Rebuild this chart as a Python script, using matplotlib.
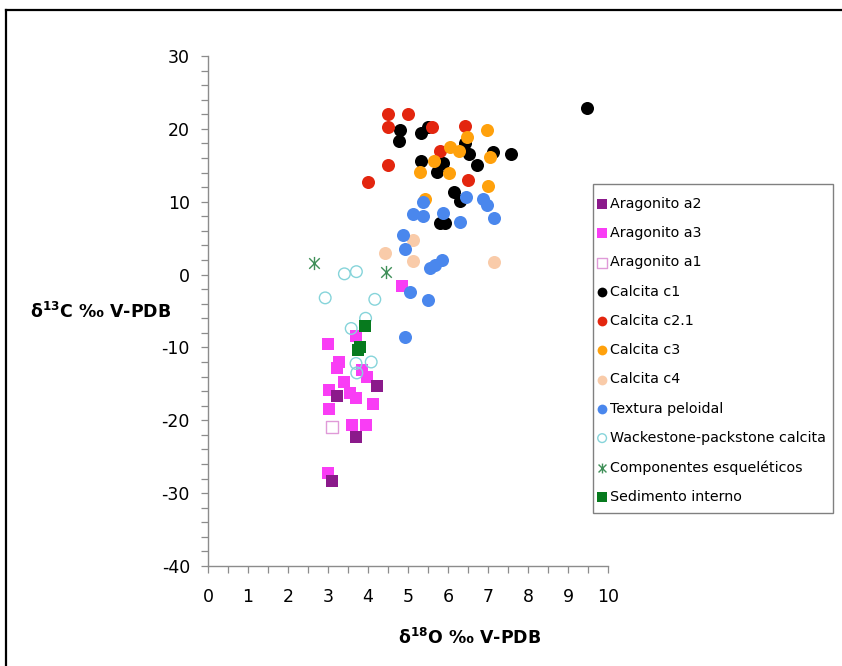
import numpy as np
import matplotlib
matplotlib.use("Agg")
from matplotlib import pyplot as plt
from matplotlib.path import Path
from matplotlib.lines import Line2D
from matplotlib.patches import Rectangle

plt.rcParams['axes.unicode_minus'] = False

# d18O (x) and d13C (y) per sample group, per mil V-PDB
arag_a2_x = [4.22, 3.23, 3.70, 3.11]
arag_a2_y = [-15.3, -16.7, -22.3, -28.4]

arag_a3_x = [4.84, 3.00, 3.70, 3.28, 3.23, 3.84, 3.97, 3.41, 3.03, 3.56, 3.70, 4.13, 3.03, 3.61, 3.95, 3.00]
arag_a3_y = [-1.5, -9.5, -8.4, -12.0, -12.8, -13.1, -14.0, -14.8, -15.8, -16.2, -17.0, -17.8, -18.5, -20.6, -20.6, -27.2]

arag_a1_x = [3.11]
arag_a1_y = [-20.9]

calc_c1_x = [4.80, 4.78, 5.33, 5.51, 6.43, 6.53, 6.72, 7.13, 7.57, 5.33, 5.88, 5.72, 6.16, 6.30, 5.80, 5.93, 9.48]
calc_c1_y = [19.9, 18.4, 19.4, 20.3, 18.1, 16.5, 15.1, 16.8, 16.6, 15.6, 15.3, 14.1, 11.3, 10.1, 7.1, 7.1, 22.9]

calc_c21_x = [4.51, 4.99, 4.51, 5.59, 6.43, 5.80, 4.51, 6.51, 4.01]
calc_c21_y = [22.0, 22.0, 20.3, 20.3, 20.4, 16.9, 15.0, 13.0, 12.7]

calc_c3_x = [6.98, 6.47, 6.05, 6.28, 5.64, 5.30, 6.03, 7.06, 7.01, 5.42]
calc_c3_y = [19.9, 18.9, 17.5, 16.9, 15.6, 14.1, 13.9, 16.1, 12.2, 10.4]

calc_c4_x = [4.43, 5.12, 5.12, 7.15]
calc_c4_y = [3.0, 4.8, 1.9, 1.7]

peloidal_x = [5.37, 6.45, 6.88, 6.98, 7.15, 5.13, 5.37, 5.88, 6.30, 4.87, 4.92, 5.54, 5.68, 5.84, 5.05, 5.51, 4.93]
peloidal_y = [9.9, 10.6, 10.4, 9.6, 7.8, 8.3, 8.0, 8.5, 7.2, 5.5, 3.5, 0.9, 1.3, 2.0, -2.4, -3.5, -8.5]

wack_x = [3.41, 3.71, 2.93, 4.17, 3.94, 3.58, 3.70, 4.08, 3.72]
wack_y = [0.1, 0.4, -3.2, -3.4, -6.0, -7.4, -12.2, -12.0, -13.5]

esq_x = [2.66, 4.46]
esq_y = [1.6, 0.3]

sed_x = [3.93, 3.80, 3.76]
sed_y = [-7.1, -10.0, -10.4]

# Excel-style star: an X with a vertical bar through it
star = Path([(0, -1), (0, 1), (-0.8, -0.8), (0.8, 0.8), (-0.8, 0.8), (0.8, -0.8)],
            [Path.MOVETO, Path.LINETO, Path.MOVETO, Path.LINETO, Path.MOVETO, Path.LINETO])

W, H = 842, 666
fig = plt.figure(figsize=(W / 100, H / 100), dpi=100)
ax = fig.add_axes([208 / W, 1 - 566 / H, 400 / W, 510 / H])

ms_sq = 78
ms_c = 88
ax.scatter(arag_a2_x, arag_a2_y, marker='s', s=ms_sq, color='#8b1a8b', linewidths=0, zorder=3, label='Aragonito a2')
ax.scatter(arag_a3_x, arag_a3_y, marker='s', s=ms_sq, color='#f93df5', linewidths=0, zorder=2, label='Aragonito a3')
ax.scatter(arag_a1_x, arag_a1_y, marker='s', s=ms_sq, facecolors='white', edgecolors='#e09ad8', linewidths=1.0, zorder=3, label='Aragonito a1')
ax.scatter(calc_c1_x, calc_c1_y, marker='o', s=ms_c, color='#000000', linewidths=0, zorder=4, label='Calcita c1')
ax.scatter(calc_c21_x, calc_c21_y, marker='o', s=ms_c, color='#e3260f', linewidths=0, zorder=5, label='Calcita c2.1')
ax.scatter(calc_c3_x, calc_c3_y, marker='o', s=ms_c, color='#ffa10c', linewidths=0, zorder=6, label='Calcita c3')
ax.scatter(calc_c4_x, calc_c4_y, marker='o', s=ms_c, color='#f9cba9', linewidths=0, zorder=7, label='Calcita c4')
ax.scatter(peloidal_x, peloidal_y, marker='o', s=ms_c, color='#4a87ed', linewidths=0, zorder=8, label='Textura peloidal')
ax.scatter(wack_x, wack_y, marker='o', s=70, facecolors='none', edgecolors='#86d4da', linewidths=1.0, zorder=9, label='Wackestone-packstone calcita')
ax.scatter(esq_x, esq_y, marker=star, s=90, color='#3f8f58', linewidths=1.0, zorder=10, label='Componentes esqueléticos')
ax.scatter(sed_x, sed_y, marker='s', s=ms_sq, color='#077a1e', linewidths=0, zorder=11, label='Sedimento interno')

ax.set_xlim(0, 10)
ax.set_ylim(-40, 30)
ax.set_xticks(np.arange(0, 11, 1))
ax.set_xticks(np.arange(0, 10.01, 0.5), minor=True)
ax.set_yticks(np.arange(-40, 31, 10))
ax.set_yticks(np.arange(-40, 31, 2), minor=True)

for side in ('top', 'right'):
    ax.spines[side].set_visible(False)
for side in ('left', 'bottom'):
    ax.spines[side].set_color('#8c8c8c')
    ax.spines[side].set_linewidth(1.0)

ax.tick_params(axis='both', which='both', direction='out', length=5, width=0.9, color='#8c8c8c')
ax.tick_params(axis='y', which='major', labelsize=12.5, pad=8)
ax.tick_params(axis='x', which='major', labelsize=12.5, pad=11)

fig.text(30 / W, 1 - 312 / H, r'$\mathregular{\delta^{13}}$C ‰ V-PDB', fontsize=12.5, fontweight='bold', ha='left', va='center')
fig.text(470 / W, 1 - 638 / H, r'$\mathregular{\delta^{18}}$O ‰ V-PDB', fontsize=12.5, fontweight='bold', ha='center', va='center')

# legend box drawn separately so the entries can sit tight against its left edge
fig.add_artist(Rectangle((593 / W, 1 - 513 / H), 240 / W, 329 / H, transform=fig.transFigure,
                         facecolor='white', edgecolor='#808080', lw=1.0, zorder=1))
handles, labels = ax.get_legend_handles_labels()
leg = fig.legend(handles, labels, loc='upper left', bbox_to_anchor=(595 / W, 1 - 197 / H),
                 bbox_transform=fig.transFigure, fontsize=10.25, frameon=False, borderpad=0,
                 labelspacing=1.07, handletextpad=0.05, handlelength=1.0, borderaxespad=0,
                 markerscale=0.75)
leg.set_zorder(5)

# outer frame around the chart
fig.add_artist(Line2D([6 / W, 6 / W], [0, 1 - 10 / H], transform=fig.transFigure, color='black', lw=1.6))
fig.add_artist(Line2D([6 / W, 1], [1 - 10 / H, 1 - 10 / H], transform=fig.transFigure, color='black', lw=1.6))

fig.savefig('out.png', dpi=100)
